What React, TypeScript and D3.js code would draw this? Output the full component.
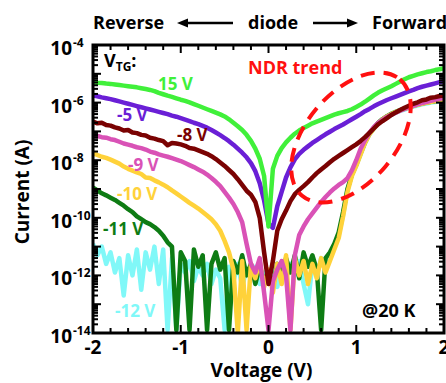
import React from "react";
import * as d3 from "d3";

// sweep voltage (V), 0.05 V steps
const voltage = [
  -2, -1.95, -1.9, -1.85, -1.8, -1.75, -1.7, -1.65, -1.6, -1.55,
  -1.5, -1.45, -1.4, -1.35, -1.3, -1.25, -1.2, -1.15, -1.1, -1.05,
  -1, -0.95, -0.9, -0.85, -0.8, -0.75, -0.7, -0.65, -0.6, -0.55,
  -0.5, -0.45, -0.4, -0.35, -0.3, -0.25, -0.2, -0.15, -0.1, -0.05,
  0,
  0.05, 0.1, 0.15, 0.2, 0.25, 0.3, 0.35, 0.4, 0.45, 0.5,
  0.55, 0.6, 0.65, 0.7, 0.75, 0.8, 0.85, 0.9, 0.95, 1,
  1.05, 1.1, 1.15, 1.2, 1.25, 1.3, 1.35, 1.4, 1.45, 1.5,
  1.55, 1.6, 1.65, 1.7, 1.75, 1.8, 1.85, 1.9, 1.95, 2,
];

// log10(current / A) for each top-gate voltage
const vtg15 = [
  -5.29, -5.31, -5.32, -5.34, -5.35, -5.37, -5.39, -5.41, -5.43, -5.45,
  -5.47, -5.5, -5.53, -5.56, -5.6, -5.66, -5.71, -5.76, -5.8, -5.85,
  -5.9, -5.94, -5.99, -6.05, -6.11, -6.17, -6.23, -6.29, -6.35, -6.41,
  -6.48, -6.58, -6.7, -6.82, -6.95, -7.12, -7.33, -7.6, -7.95, -8.55,
  -10.3,
  -8.3, -7.85, -7.58, -7.38, -7.22, -7.08, -6.97, -6.88, -6.8, -6.72,
  -6.66, -6.6, -6.54, -6.48, -6.42, -6.37, -6.33, -6.29, -6.23, -6.15,
  -6.07, -5.97, -5.86, -5.75, -5.65, -5.57, -5.5, -5.43, -5.35, -5.27,
  -5.19, -5.12, -5.07, -5.02, -4.98, -4.94, -4.91, -4.87, -4.84, -4.81,
];
const vtgM5 = [
  -5.75, -5.78, -5.82, -5.85, -5.88, -5.92, -5.96, -6.0, -6.04, -6.08,
  -6.12, -6.16, -6.2, -6.24, -6.28, -6.32, -6.36, -6.4, -6.45, -6.49,
  -6.54, -6.59, -6.64, -6.7, -6.75, -6.81, -6.87, -6.95, -7.04, -7.13,
  -7.23, -7.34, -7.46, -7.6, -7.74, -7.9, -8.1, -8.38, -8.8, -9.4,
  -10.2,
  -10.35, -9.6, -9.1, -8.6, -8.25, -7.97, -7.78, -7.64, -7.52, -7.4,
  -7.3, -7.2, -7.1, -7.01, -6.92, -6.84, -6.76, -6.67, -6.58, -6.49,
  -6.4, -6.3, -6.22, -6.13, -6.05, -5.98, -5.91, -5.85, -5.79, -5.73,
  -5.67, -5.61, -5.56, -5.5, -5.45, -5.41, -5.37, -5.33, -5.29, -5.26,
];
const vtgM8 = [
  -6.66, -6.72, -6.7, -6.78, -6.8, -6.86, -6.9, -6.97, -6.95, -7.04,
  -7.06, -7.12, -7.14, -7.22, -7.25, -7.3, -7.34, -7.48, -7.4, -7.42,
  -7.45, -7.5, -7.58, -7.6, -7.66, -7.72, -7.78, -7.86, -7.96, -8.08,
  -8.2, -8.34, -8.48, -8.66, -8.86, -9.06, -9.2, -9.45, -10.0, -11.2,
  -12.3,
  -11.5, -10.45, -10.05, -9.75, -9.42, -9.18, -9.03, -8.9, -8.76, -8.6,
  -8.45, -8.32, -8.2, -8.07, -7.95, -7.85, -7.75, -7.65, -7.55, -7.45,
  -7.33, -7.2, -7.05, -6.9, -6.75, -6.64, -6.54, -6.43, -6.34, -6.26,
  -6.18, -6.11, -6.04, -5.99, -5.92, -5.89, -5.83, -5.81, -5.77, -5.75,
];
const vtgM9 = [
  -7.13, -7.16, -7.2, -7.22, -7.27, -7.3, -7.36, -7.42, -7.46, -7.5,
  -7.55, -7.58, -7.63, -7.7, -7.74, -7.8, -7.84, -7.88, -7.93, -7.98,
  -8.03, -8.1, -8.17, -8.24, -8.32, -8.4, -8.5, -8.62, -8.75, -8.9,
  -9.1, -9.3, -9.52, -9.8, -10.15, -10.9, -11.6, -11.9, -11.4, -12.6,
  -13.9,
  -12.2, -11.8, -11.5, -12.0, -13.9, -11.3, -10.6, -10.3, -10.05, -9.85,
  -9.65, -9.45, -9.28, -9.12, -8.98, -8.86, -8.76, -8.62, -8.35, -8.0,
  -7.6, -7.3, -7.05, -6.85, -6.7, -6.6, -6.5, -6.42, -6.35, -6.28,
  -6.22, -6.16, -6.11, -6.06, -6.02, -5.98, -5.94, -5.9, -5.87, -5.84,
];
const vtgM10 = [
  -7.76, -7.82, -7.88, -7.92, -7.98, -8.05, -8.12, -8.22, -8.3, -8.36,
  -8.42, -8.48, -8.6, -8.62, -8.7, -8.77, -8.85, -8.94, -9.05, -9.15,
  -9.26, -9.37, -9.48, -9.58, -9.68, -9.8, -9.92, -10.05, -10.22, -10.45,
  -10.8, -11.2, -11.8, -14.0, -11.5, -13.9, -11.6, -12.1, -11.5, -12.4,
  -11.8,
  -12.6, -11.6, -12.3, -11.3, -13.9, -11.4, -12.0, -11.5, -12.3, -11.6,
  -12.1, -11.4, -11.9, -11.5, -11.1, -10.7, -9.95, -9.1, -8.55, -8.2,
  -7.8, -7.4, -7.1, -6.9, -6.72, -6.58, -6.48, -6.4, -6.33, -6.27,
  -6.22, -6.17, -6.12, -6.08, -6.04, -6.01, -5.98, -5.95, -5.93, -5.91,
];
const vtgM11 = [
  -8.95, -9.05, -9.15, -9.22, -9.3, -9.38, -9.48, -9.58, -9.7, -9.8,
  -9.95, -10.05, -10.15, -10.22, -10.32, -10.45, -10.62, -10.85, -11.0, -13.9,
  -11.2, -11.5, -13.9, -11.1, -11.7, -11.3, -13.9, -11.6, -11.2, -11.8,
  -11.4, -13.9, -11.5, -11.9, -11.3, -12.0, -11.6, -12.3, -11.7, -12.2,
  -11.9,
  -12.4, -11.6, -12.0, -11.4, -11.9, -11.3, -12.1, -11.2, -11.7, -11.3,
  -11.8, -13.9, -11.4, -11.2, -10.9, -10.5, -9.8, -9.0, -8.5, -8.15,
  -7.75, -7.38, -7.08, -6.88, -6.7, -6.57, -6.47, -6.39, -6.32, -6.26,
  -6.21, -6.16, -6.11, -6.07, -6.03, -6.0, -5.97, -5.95, -5.92, -5.9,
];
const vtgM12 = [
  -10.9, -11.3, -11.0, -11.6, -11.2, -11.9, -11.4, -12.7, -11.3, -12.0,
  -11.1, -12.5, -11.2, -11.8, -11.0, -12.3, -11.1, -13.9, -11.4, -13.9,
  -11.6, -11.9, -11.5, -12.2, -11.7, -12.0, -11.6, -12.3, -11.8, -12.1,
  -13.9, -11.7, -12.2, -11.6, -12.4, -11.8, -12.0, -11.7, -12.3, -11.9,
  -12.2,
  -11.8, -12.4, -11.7, -12.1, -11.6, -12.0, -11.5, -12.3, -13.0, -11.6,
  -12.0, -11.4, -11.8, -11.3, -11.0, -10.6, -9.9, -9.05, -8.5, -8.18,
  -7.78, -7.4, -7.1, -6.9, -6.73, -6.6, -6.5, -6.42, -6.35, -6.29,
  -6.24, -6.19, -6.14, -6.1, -6.06, -6.03, -6.0, -5.98, -5.96, -5.94,
];

// drawn back to front
const seriesNames = ["-12 V", "-11 V", "-10 V", "-9 V", "-8 V", "-5 V", "15 V"];
const seriesValues = [vtgM12, vtgM11, vtgM10, vtgM9, vtgM8, vtgM5, vtg15];
const seriesColors = ["#80f8f8", "#0e7c14", "#ffd23a", "#d952b6", "#7a0202", "#6a1fd6", "#40f03a"];

const xTickLabels = ["-2", "-1", "0", "1", "2"];
const yTickExponents = [-4, -6, -8, -10, -12, -14];

const W = 446;
const H = 383;
const m = { left: 93, right: 444, top: 45, bottom: 333 };
const font = "'Open Sans', sans-serif";

// label spots (px) for the series names, same order as seriesNames
const labelPos = [
  [115, 317], [103, 235], [117, 200], [128, 171], [177, 141], [117, 121], [158, 90],
];

export default function App() {
  const x = d3.scaleLinear().domain([-2, 2]).range([m.left, m.right]);
  const y = d3.scaleLog().domain([1e-14, 1e-4]).range([m.bottom, m.top]);

  const line = d3
    .line<number>()
    .x((_, i) => x(voltage[i]))
    .y((v) => y(Math.pow(10, v)));

  const xMinor = x.ticks(20);
  const yMinor: { v: number; major: boolean }[] = [];
  d3.range(-14, -4).forEach((e) => {
    for (let k = 1; k < 10; k++) yMinor.push({ v: k * Math.pow(10, e), major: k === 1 });
  });
  yMinor.push({ v: 1e-4, major: true });

  const ell = { cx: 351, cy: 137.5, rx: 76, ry: 45, rot: -50 };

  return (
    <svg width={W} height={H} style={{ position: "absolute", left: 0, top: 0, background: "#fff" }}
      fontFamily={font} fontWeight="bold">
      <defs>
        <clipPath id="plot">
          <rect x={m.left} y={m.top} width={m.right - m.left} height={m.bottom - m.top} />
        </clipPath>
      </defs>

      <g clipPath="url(#plot)">
        {seriesValues.map((vals, i) => (
          <path key={i} d={line(vals) || ""} fill="none" stroke={seriesColors[i]}
            strokeWidth={4.5} strokeLinejoin="round" />
        ))}
        <ellipse cx={ell.cx} cy={ell.cy} rx={ell.rx} ry={ell.ry}
          transform={`rotate(${ell.rot} ${ell.cx} ${ell.cy})`}
          fill="none" stroke="#ff1010" strokeWidth={4} strokeDasharray="14 9" />
      </g>

      {/* ticks */}
      <g stroke="#000" strokeWidth={2}>
        {xMinor.map((t, i) => {
          const len = Math.abs(t - Math.round(t)) < 1e-6 ? 8 : 5;
          return (
            <g key={i}>
              <line x1={x(t)} x2={x(t)} y1={m.bottom} y2={m.bottom - len} />
              <line x1={x(t)} x2={x(t)} y1={m.top} y2={m.top + len} />
            </g>
          );
        })}
        {yMinor.map((t, i) => {
          const len = t.major ? 8 : 5;
          return (
            <g key={i}>
              <line x1={m.left} x2={m.left + len} y1={y(t.v)} y2={y(t.v)} />
              <line x1={m.right} x2={m.right - len} y1={y(t.v)} y2={y(t.v)} />
            </g>
          );
        })}
      </g>
      <rect x={m.left} y={m.top} width={m.right - m.left} height={m.bottom - m.top}
        fill="none" stroke="#000" strokeWidth={3} />

      {/* tick labels */}
      {yTickExponents.map((e) => (
        <g key={e}>
          <text x={72} y={y(Math.pow(10, e)) + 10} fontSize={19} textAnchor="end">10</text>
          <text x={73} y={y(Math.pow(10, e)) + 2} fontSize={12}>{e}</text>
        </g>
      ))}
      {xTickLabels.map((t) => (
        <text key={t} x={x(+t)} y={354} fontSize={19} textAnchor="middle">{t}</text>
      ))}

      <text x={(m.left + m.right) / 2 - 7} y={377} fontSize={19} textAnchor="middle">Voltage (V)</text>
      <text transform="translate(29,192) rotate(-90)" fontSize={19} textAnchor="middle">Current (A)</text>

      {/* header */}
      <text x={93} y={29} fontSize={18}>Reverse</text>
      <text x={248} y={29} fontSize={18}>diode</text>
      <text x={372} y={29} fontSize={18}>Forward</text>
      <g stroke="#000" strokeWidth={2.5}>
        <line x1={233} x2={185} y1={23} y2={23} />
        <line x1={313} x2={350} y1={23} y2={23} />
      </g>
      <path d="M177,23 L188,18.5 L188,27.5 Z" fill="#000" />
      <path d="M358,23 L347,18.5 L347,27.5 Z" fill="#000" />

      {/* annotations */}
      <text x={104} y={67} fontSize={18}>
        V<tspan fontSize={12} dy={4}>TG</tspan><tspan dy={-4}>:</tspan>
      </text>
      {seriesNames.map((n, i) => (
        <text key={n} x={labelPos[i][0]} y={labelPos[i][1]} fontSize={17} fill={seriesColors[i]}>{n}</text>
      ))}
      <text x={248} y={74} fontSize={18} fill="#ff1010">NDR trend</text>
      <text x={362} y={317} fontSize={18}>@20 K</text>
    </svg>
  );
}
